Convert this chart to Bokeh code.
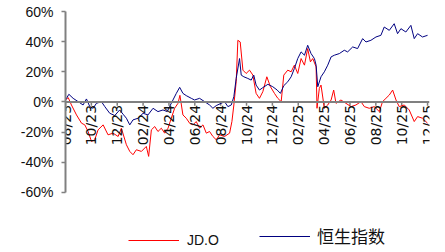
import math
from bokeh.plotting import figure
from bokeh.models import Range1d, FixedTicker, Legend, LegendItem, Span
from bokeh.core.properties import value
from bokeh.embed import file_html
from bokeh.resources import INLINE

# x = months since Aug 2023
tick_pos = [0, 2, 4, 6, 8, 10, 12, 14, 16, 18, 20, 22, 24, 26, 28]
tick_labels = ["08/23", "10/23", "12/23", "02/24", "04/24", "06/24", "08/24",
               "10/24", "12/24", "02/25", "04/25", "06/25", "08/25", "10/25", "12/25"]
y_ticks = [-60, -40, -20, 0, 20, 40, 60]
y_labels = ["-60%", "-40%", "-20%", "0%", "20%", "40%", "60%"]

hsi_x = [0.0, 0.26, 0.59, 0.98, 1.36, 1.62, 1.88, 2.14, 2.39, 2.78, 3.04, 3.42, 3.81,
         4.19, 4.45, 4.71, 4.97, 5.22, 5.61, 6.00, 6.38, 6.77, 7.15, 7.54, 7.87, 8.05,
         8.31, 8.57, 8.83, 9.08, 9.34, 9.73, 9.98, 10.37, 10.76, 11.14, 11.40, 11.66,
         12.04, 12.30, 12.56, 12.82, 13.02, 13.20, 13.46, 13.59, 13.79, 14.10, 14.36,
         14.56, 14.74, 15.00, 15.26, 15.65, 16.03, 16.37, 16.62, 16.88, 17.19, 17.45,
         17.70, 17.96, 18.22, 18.48, 18.73, 18.99, 19.25, 19.38, 19.51, 19.76, 20.02,
         20.28, 20.54, 20.79, 21.18, 21.56, 21.82, 22.21, 22.59, 22.98, 23.24, 23.62,
         24.01, 24.39, 24.65, 25.04, 25.42, 25.68, 25.94, 26.32, 26.71, 26.97, 27.23,
         27.61, 28.00]
hsi_y = [1.3, 5.1, 2.4, 0.2, -2.0, 2.0, -3.1, -4.2, -0.9, 0.2, -3.1, -7.5, -9.0,
         -5.3, -8.1, -10.8, -15.2, -11.9, -10.8, -7.5, -8.6, -4.2, -6.4, -5.3, -6.4, -3.1,
         1.3, 5.7, 9.7, 5.7, 4.2, 2.4, 1.3, 2.4, 0.2, -2.0, -4.2, -2.4,
         -0.9, 0.2, -3.1, -2.0, 3.5, 15.6, 28.8, 17.8, 16.7, 15.6, 14.5,
         17.8, 11.2, 7.9, 9.5, 11.7, 10.1, 7.9, 5.7, 10.8, 13.4, 16.7,
         22.2, 28.8, 33.2, 31.0, 37.6, 32.1, 28.8, 24.4, 10.1, 16.7, 20.0,
         24.4, 29.9, 31.0, 32.1, 34.3, 33.2, 36.5, 35.4, 42.0, 39.8, 40.9,
         43.1, 44.2, 49.7, 47.5, 51.9, 45.3, 48.6, 46.4, 50.8, 42.0, 45.3,
         43.1, 44.2]

jd_x = [0.0, 0.21, 0.46, 0.85, 1.24, 1.49, 1.75, 2.01, 2.26, 2.52, 2.91, 3.29, 3.68,
        4.07, 4.32, 4.71, 4.97, 5.22, 5.48, 5.87, 6.25, 6.43, 6.64, 6.90, 7.15, 7.41,
        7.67, 7.93, 8.18, 8.44, 8.70, 8.85, 9.08, 9.34, 9.60, 9.86, 10.11, 10.37, 10.63,
        10.89, 11.14, 11.40, 11.66, 11.91, 12.30, 12.69, 12.87, 13.02, 13.20, 13.33,
        13.51, 13.72, 13.97, 14.23, 14.49, 14.74, 15.00, 15.26, 15.57, 15.85, 16.16,
        16.42, 16.68, 16.88, 17.19, 17.45, 17.70, 17.96, 18.22, 18.48, 18.73, 18.94,
        19.12, 19.38, 19.45, 19.63, 19.76, 20.02, 20.28, 20.54, 20.74, 20.92, 21.30,
        21.69, 22.08, 22.46, 22.85, 23.11, 23.49, 23.88, 24.27, 24.52, 24.78, 25.04,
        25.30, 25.56, 25.81, 26.20, 26.58, 26.97, 27.23, 27.61, 28.00]
jd_y = [1.3, 2.9, -2.0, -8.6, -14.1, -15.2, -19.6, -26.2, -25.1, -18.5, -15.2, -21.8, -20.7,
        -22.9, -17.4, -28.4, -32.8, -35.0, -31.7, -32.8, -29.5, -36.1, -18.5, -16.3, -19.6, -17.4,
        -20.7, -17.4, -10.8, -4.2, -0.9, 4.4, -8.6, -10.8, -14.1, -15.2, -13.0, -17.4, -15.2,
        -20.7, -19.6, -22.9, -25.1, -21.8, -22.9, -20.7, -13.0, -2.0, 13.4, 40.9,
        39.8, 21.1, 18.9, 21.1, 17.8, 5.7, 2.4, 6.8, 16.7, 10.1, 5.7,
        2.4, 0.2, 17.8, 21.1, 20.0, 24.4, 18.9, 28.8, 24.4, 35.4, 26.6,
        28.8, 23.3, -4.2, 9.0, 11.2, -4.2, -2.0, 1.3, 7.9, -0.9, 1.3,
        -0.9, -3.1, -2.0, 0.2, -3.1, -4.2, -3.1, -6.4, 0.2, 2.4, 4.6,
        7.9, 1.3, -3.1, -2.0, -5.3, -13.0, -9.7, -10.8, -14.1]

# frame extends to the bottom of the canvas so the legend can sit inside it
p = figure(frame_width=364, frame_height=237, output_backend="svg", toolbar_location=None,
           x_range=Range1d(0, 28.15), y_range=Range1d(-97.2, 60),
           x_axis_location=None,
           min_border_left=65, min_border_right=8, min_border_top=11, min_border_bottom=0)
p.outline_line_color = None
p.grid.visible = False
p.background_fill_color = "white"
p.border_fill_color = "white"

# zero line acting as the x axis
p.add_layout(Span(location=0, dimension="width", line_color="#808080", line_width=2))
p.segment(x0=tick_pos, y0=[0] * len(tick_pos), x1=tick_pos, y1=[-2.5] * len(tick_pos),
          line_color="#808080", line_width=1.5)

r1 = p.line(jd_x, jd_y, line_color="#FF0000", line_width=1)
r2 = p.line(hsi_x, hsi_y, line_color="#000080", line_width=1)

p.text(x=tick_pos, y=[0] * len(tick_pos), text=tick_labels, angle=math.pi / 2,
       text_align="right", text_baseline="middle", y_offset=3,
       text_font=value("DejaVu Sans"), text_font_size="14px", text_color="#111111")

ya = p.yaxis[0]
ya.bounds = (-60, 60)
ya.ticker = FixedTicker(ticks=y_ticks)
ya.major_label_overrides = {t: l for t, l in zip(y_ticks, y_labels)}
ya.axis_line_color = "#808080"
ya.axis_line_width = 2
ya.major_tick_line_color = "#808080"
ya.major_tick_line_width = 1.5
ya.major_tick_out = 4
ya.major_tick_in = 0
ya.minor_tick_line_color = None
ya.major_label_text_font = "Liberation Sans"
ya.major_label_text_font_size = "14px"
ya.major_label_text_color = "#111111"
ya.major_label_standoff = 8

leg1 = Legend(items=[LegendItem(label="JD.O", renderers=[r1])],
              location=(63, 0), glyph_width=51, glyph_height=16, label_standoff=8,
              label_text_font="Liberation Sans", label_text_font_size="14px",
              label_text_color="#111111", border_line_color=None,
              background_fill_alpha=0, padding=0, margin=0)
leg2 = Legend(items=[LegendItem(label="恒生指数", renderers=[r2])],
              location=(194, 0), glyph_width=51, glyph_height=16, label_standoff=7,
              label_text_font="Noto Sans CJK SC", label_text_font_size="17px",
              label_text_color="#111111", border_line_color=None,
              background_fill_alpha=0, padding=0, margin=0)
p.add_layout(leg1)
p.add_layout(leg2)

open("out.html", "w").write(file_html(p, INLINE))
